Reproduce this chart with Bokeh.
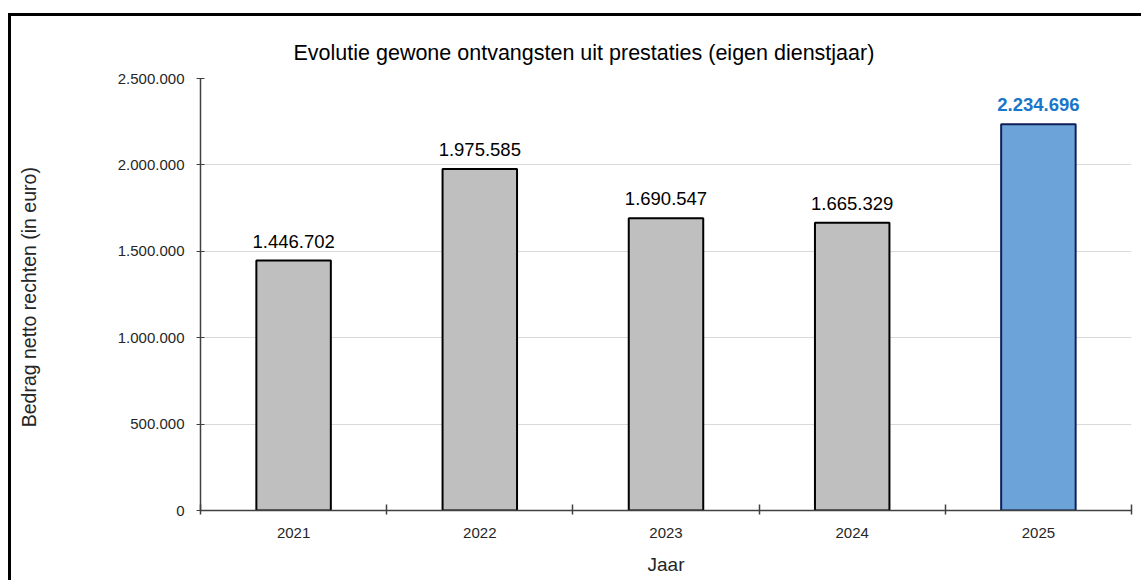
from bokeh.plotting import figure
from bokeh.models import Range1d, FixedTicker, ColumnDataSource
from bokeh.embed import file_html
from bokeh.resources import INLINE
from bokeh.core.properties import value

years = ["2021", "2022", "2023", "2024", "2025"]
amounts = [1446702, 1975585, 1690547, 1665329, 2234696]
y_ticks = [0, 500000, 1000000, 1500000, 2000000, 2500000]
title_text = "Evolutie gewone ontvangsten uit prestaties (eigen dienstjaar)"
x_label = "Jaar"
y_label = "Bedrag netto rechten  (in euro)"


def fmt(v):
    return f"{v:,}".replace(",", ".")


FONT = "Liberation Sans"
x = list(range(1, len(years) + 1))
n = len(years)
fills = ["#bfbfbf"] * (n - 1) + ["#6ca4da"]
lines = ["#000000"] * (n - 1) + ["#0f1f5a"]
label_colors = ["#000000"] * (n - 1) + ["#1a76c9"]
label_styles = ["normal"] * (n - 1) + ["bold"]

src = ColumnDataSource(dict(x=x, top=amounts, fill=fills, line=lines,
                            label=[fmt(a) for a in amounts],
                            lc=label_colors, ls=label_styles))

p = figure(width=1133, height=567,
           x_range=Range1d(0.5, n + 0.5), y_range=Range1d(0, y_ticks[-1]),
           output_backend="svg", toolbar_location=None,
           title=title_text,
           min_border_left=189, min_border_right=13,
           min_border_top=62, min_border_bottom=73)
p.styles = {"border-left": "3px solid black", "border-top": "3px solid black",
            "margin-top": "13px", "margin-left": "8px"}
p.outline_line_color = None
p.background_fill_color = "white"
p.border_fill_color = "white"

p.title.text_font = FONT
p.title.text_font_size = "21.5px"
p.title.text_font_style = "normal"
p.title.text_color = "#000000"
p.title.align = "left"
p.title.offset = 93
p.title.standoff = 28

p.vbar(x="x", top="top", width=0.40, source=src, fill_color="fill",
       line_color="line", line_width=2)

p.text(x="x", y="top", text="label", source=src, text_color="lc",
       text_font_style="ls", text_align="center", text_baseline="bottom",
       y_offset=-13, text_font=value(FONT), text_font_size="18.5px")

p.xgrid.grid_line_color = None
p.ygrid.grid_line_color = "#d9d9d9"
p.ygrid.grid_line_width = 1
p.ygrid.ticker = FixedTicker(ticks=y_ticks)

ya = p.yaxis[0]
ya.ticker = FixedTicker(ticks=y_ticks)
ya.major_label_overrides = {t: fmt(t) for t in y_ticks}
ya.major_tick_in = 4
ya.major_tick_out = 4
ya.minor_tick_in = 0
ya.minor_tick_out = 0
ya.axis_line_color = "#404040"
ya.axis_line_width = 1.5
ya.major_tick_line_color = "#404040"
ya.major_label_text_font = FONT
ya.major_label_text_font_size = "15px"
ya.major_label_text_color = "#262626"
ya.major_label_standoff = 12
ya.axis_label = y_label
ya.axis_label_text_font = FONT
ya.axis_label_text_font_size = "19.5px"
ya.axis_label_text_font_style = "normal"
ya.axis_label_text_color = "#262626"
ya.axis_label_standoff = 75

xa = p.xaxis[0]
xa.ticker = FixedTicker(ticks=x, minor_ticks=[i - 0.5 for i in x] + [x[-1] + 0.5])
xa.major_label_overrides = {i: yv for i, yv in zip(x, years)}
xa.major_tick_in = 0
xa.major_tick_out = 0
xa.minor_tick_in = 6
xa.minor_tick_out = 4
xa.minor_tick_line_color = "#404040"
xa.minor_tick_line_width = 1.5
xa.axis_line_color = "#404040"
xa.axis_line_width = 1.5
xa.major_label_text_font = FONT
xa.major_label_text_font_size = "15px"
xa.major_label_text_color = "#262626"
xa.major_label_standoff = 13
xa.axis_label = x_label
xa.axis_label_text_font = FONT
xa.axis_label_text_font_size = "19px"
xa.axis_label_text_font_style = "normal"
xa.axis_label_text_color = "#262626"
xa.axis_label_standoff = 13

open("out.html", "w").write(file_html(p, INLINE))
